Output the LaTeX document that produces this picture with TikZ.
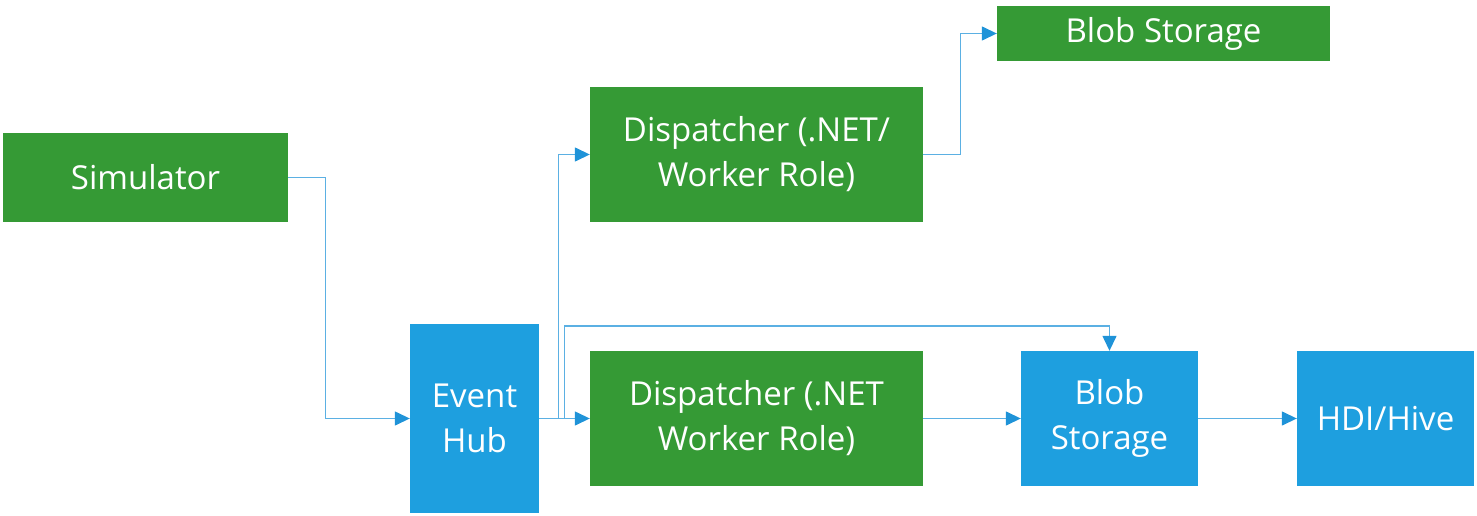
\documentclass[tikz,border=0pt]{standalone}
\usepackage{fontspec}
\setmainfont{Open Sans}
\usetikzlibrary{arrows.meta}
\definecolor{boxgreen}{HTML}{359A35}
\definecolor{boxblue}{HTML}{1E9FDF}
\definecolor{linecol}{HTML}{5BB0E3}
\definecolor{tipcol}{HTML}{1F93D8}
\tikzset{
  box/.style={rectangle, draw=none, text=white, align=center, inner sep=0pt,
    font=\fontsize{33}{45}\selectfont},
  gbox/.style={box, fill=boxgreen},
  bbox/.style={box, fill=boxblue},
  conn/.style={draw=linecol, line width=1.4pt,
    -{Triangle[length=15pt,width=14pt,color=tipcol]}}
}
\begin{document}
\begin{tikzpicture}[x=1pt,y=1pt]
\useasboundingbox (0,0) rectangle (1477,-516);
\node[gbox, minimum width=285pt, minimum height=89pt] (sim) at (145.5,-177.5) {Simulator};
\node[bbox, minimum width=129pt, minimum height=189pt] (hub) at (474.5,-418.5) {Event\\Hub};
\node[gbox, minimum width=333pt, minimum height=135pt] (d1) at (756.5,-154.5) {Dispatcher (.NET/\\Worker Role)};
\node[gbox, minimum width=333pt, minimum height=135pt] (d2) at (756.5,-418.5) {Dispatcher (.NET\\Worker Role)};
\node[gbox, minimum width=333pt, minimum height=55pt] (b1) at (1163.5,-33.5) {Blob Storage};
\node[bbox, minimum width=177pt, minimum height=135pt] (b2) at (1109.5,-418.5) {Blob\\Storage};
\node[bbox, minimum width=177pt, minimum height=135pt] (hdi) at (1385.5,-418.5) {HDI/Hive};
\coordinate (b2top) at ([yshift=25pt]b2.north);
\draw[conn] (sim.east) -- ++(37,0) |- (hub.west);
\draw[conn] (hub.east) -- (d2.west);
\draw[conn] (hub.east) -- ++(19,0) |- (d1.west);
\draw[conn] (hub.east) -- ++(25,0) |- (b2top) -- (b2.north);
\draw[conn] (d1.east) -- ++(37,0) |- (b1.west);
\draw[conn] (d2.east) -- (b2.west);
\draw[conn] (b2.east) -- (hdi.west);
\end{tikzpicture}
\end{document}
